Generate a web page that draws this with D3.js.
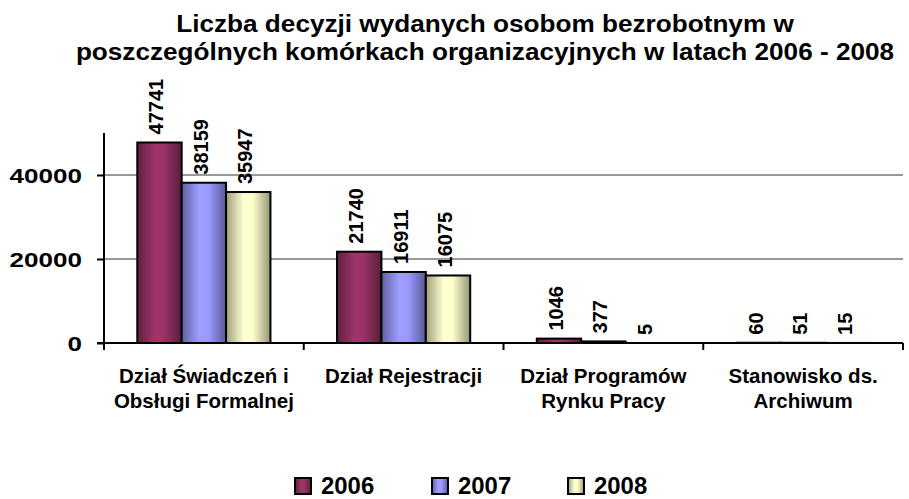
<!DOCTYPE html>
<html><head><meta charset="utf-8">
<script src="https://cdn.jsdelivr.net/npm/d3@7"></script>
<style>body{margin:0;background:#fff}svg{display:block}text{font-family:"Liberation Sans",Arial,sans-serif;font-weight:bold;fill:#000}</style>
</head><body><svg id="c" width="909" height="499"></svg>
<script>
const categories = [["Dział Świadczeń i","Obsługi Formalnej"],["Dział Rejestracji"],["Dział Programów","Rynku Pracy"],["Stanowisko ds.","Archiwum"]];
const seriesNames = ["2006","2007","2008"];
const v2006 = [47741, 21740, 1046, 60];
const v2007 = [38159, 16911, 377, 51];
const v2008 = [35947, 16075, 5, 15];
const yTicks = [0, 20000, 40000];
const colors = ["#993366","#9999FF","#FFFFCC"];
const titleLines = ["Liczba decyzji wydanych osobom bezrobotnym w","poszczególnych komórkach organizacyjnych w latach 2006 - 2008"];

const series = [v2006, v2007, v2008];
const svg = d3.select("#c");
const L = 104, R = 903, T = 133, B = 343;
const x0 = d3.scaleBand().domain(d3.range(categories.length)).range([L, R]).paddingInner(0).paddingOuter(0);
const x1 = d3.scaleBand().domain(d3.range(seriesNames.length)).range([0, x0.bandwidth()]).paddingOuter(0.75).paddingInner(0);
const y = d3.scaleLinear().domain([0, 50000]).range([B, T]);

const defs = svg.append("defs");
colors.forEach((c, i) => {
  const g = defs.append("linearGradient").attr("id", "g" + i).attr("x1", 0).attr("x2", 1).attr("y1", 0).attr("y2", 0);
  const base = d3.color(c);
  g.append("stop").attr("offset", "0%").attr("stop-color", base.darker(1.3));
  g.append("stop").attr("offset", "40%").attr("stop-color", base.brighter(0.1));
  g.append("stop").attr("offset", "60%").attr("stop-color", base);
  g.append("stop").attr("offset", "100%").attr("stop-color", base.darker(1.5));
});

// gridlines
svg.append("g").selectAll("line").data(yTicks.filter(d => d > 0)).join("line")
  .attr("x1", L).attr("x2", R).attr("y1", d => y(d)).attr("y2", d => y(d))
  .attr("stroke", "#999").attr("stroke-width", 2);

// title
svg.append("g").selectAll("text").data(titleLines).join("text")
  .attr("transform", (d, i) => `translate(485,${32 + i * 28}) scale(1.09,1)`).attr("text-anchor", "middle")
  .style("font-size", "24px").text(d => d);

// bars
const groups = svg.append("g").selectAll("g").data(categories).join("g")
  .attr("transform", (d, i) => `translate(${x0(i)},0)`);
groups.each(function(cat, ci) {
  const g = d3.select(this);
  series.forEach((s, si) => {
    const v = s[ci];
    const bx = x1(si), bw = x1.bandwidth();
    g.append("rect").attr("x", bx).attr("y", y(v)).attr("width", bw).attr("height", Math.max(0, B - y(v)))
      .attr("fill", `url(#g${si})`).attr("stroke", "#000").attr("stroke-width", 2);
    g.append("text").attr("transform", `translate(${bx + bw / 2 + 4},${y(v) - 8}) rotate(-90)`)
      .style("font-size", "20px").text(v);
  });
});

// axes
const yAxis = d3.axisLeft(y).tickValues(yTicks).tickSize(6).tickPadding(0).tickFormat(d3.format("d"));
const ga = svg.append("g").attr("transform", `translate(${L},0)`).call(yAxis);
ga.select(".domain").attr("d", `M0,${T}V${B + 6}`).attr("stroke", "#000").attr("stroke-width", 2);
ga.selectAll(".tick line").attr("stroke", "#000").attr("stroke-width", 2).attr("x1", -7).attr("x2", 0);
ga.selectAll(".tick text").attr("x", null).attr("dy", null)
  .attr("transform", "translate(-22,7.5) scale(1.24,1)")
  .style("font-size", "21px").style("font-family", "'Liberation Sans',Arial,sans-serif").style("font-weight", "bold").attr("fill", "#000");

const xAxis = svg.append("g");
xAxis.append("line").attr("x1", L - 7).attr("x2", R).attr("y1", B).attr("y2", B).attr("stroke", "#000").attr("stroke-width", 2);
xAxis.selectAll("line.t").data(d3.range(categories.length + 1)).join("line").attr("class", "t")
  .attr("x1", i => L + i * x0.bandwidth()).attr("x2", i => L + i * x0.bandwidth())
  .attr("y1", B).attr("y2", B + 7).attr("stroke", "#000").attr("stroke-width", 2);
categories.forEach((lines, i) => {
  xAxis.append("g").selectAll("text").data(lines).join("text")
    .attr("x", x0(i) + x0.bandwidth() / 2).attr("y", (d, j) => 383 + j * 25)
    .attr("text-anchor", "middle").style("font-size", "20.5px").text(d => d);
});

// legend
const legX = [295, 432, 568];
const lg = svg.append("g").selectAll("g").data(seriesNames).join("g")
  .attr("transform", (d, i) => `translate(${legX[i]},478)`);
lg.append("rect").attr("width", 16).attr("height", 16).attr("fill", (d, i) => `url(#g${i})`).attr("stroke", "#000").attr("stroke-width", 2);
lg.append("text").attr("x", 25).attr("y", 16).attr("transform", "scale(1.04,1)").style("font-size", "23px").text(d => d);
</script></body></html>
